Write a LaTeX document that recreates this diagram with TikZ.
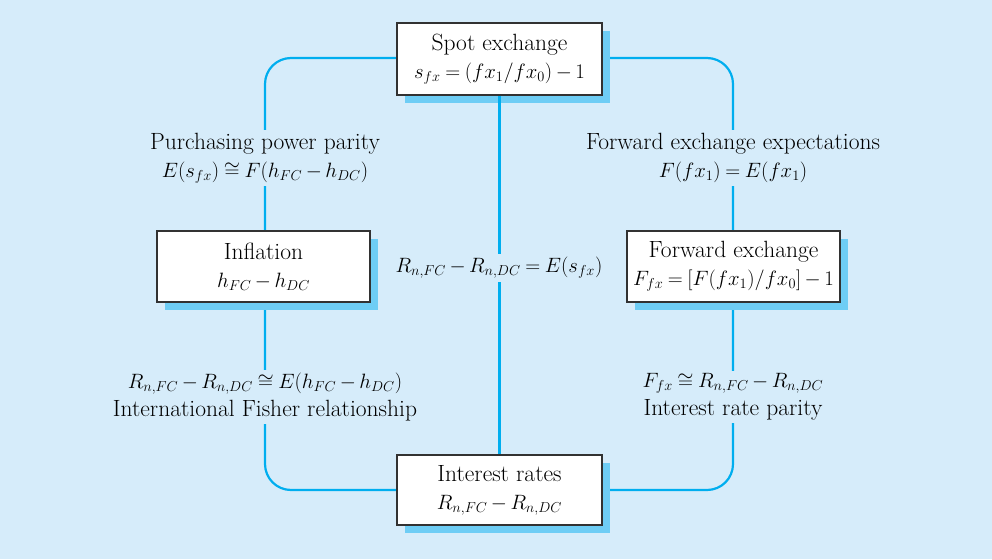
\documentclass[tikz,border=0pt]{standalone}
\usepackage{amsmath}
\usetikzlibrary{shadows}
\definecolor{bgblue}{RGB}{214,236,250}
\definecolor{linecyan}{RGB}{0,174,239}
\definecolor{shadowblue}{RGB}{110,205,245}
\definecolor{boxedge}{RGB}{50,50,50}
\newcommand{\mth}[1]{{\fontsize{20}{27}\selectfont$\medmuskip=3mu\thickmuskip=4mu #1$}}
\begin{document}
\begin{tikzpicture}[x=1pt,y=-1pt,
  txt/.style={font=\fontsize{23.5}{27}\selectfont, align=center},
  box/.style={txt, draw=boxedge, line width=1.2pt, fill=white, inner sep=0pt,
    drop shadow={shadow xshift=8pt, shadow yshift=-8pt, fill=shadowblue, opacity=1}},
  lab/.style={txt, fill=bgblue, inner sep=3pt},
  conn/.style={draw=linecyan, line width=2.2pt}]
\fill[bgblue] (0,0) rectangle (992,559);
\useasboundingbox (0,0) rectangle (992,559);
% loop
\coordinate (tl) at (265,58);
\coordinate (br) at (733,490);
\draw[conn, rounded corners=26pt] (tl) rectangle (br);
% boxes
\node[box, minimum width=205pt, minimum height=72pt] (spot) at (499.5,59)
  {Spot exchange\\[1pt]\mth{s_{fx}=(fx_1/fx_0)-1}};
\node[box, minimum width=213pt, minimum height=71pt] (infl) at (263.5,266.5)
  {Inflation\\[1pt]\mth{h_{FC}-h_{DC}}};
\node[box, minimum width=213pt, minimum height=71pt] (fwd) at (733.5,266.5)
  {Forward exchange\\[1pt]\mth{F_{fx}=[F(fx_1)/fx_0]-1}};
\node[box, minimum width=205pt, minimum height=70pt] (int) at (499.5,490)
  {Interest rates\\[1pt]\mth{R_{n,FC}-R_{n,DC}}};
% center line
\draw[conn] (spot.south) -- (int.north);
% labels
\node[lab] (ppp) at (265,158) {Purchasing power parity\\[1pt]\mth{E(s_{fx})\cong F(h_{FC}-h_{DC})}};
\node[lab] (fee) at (733,158) {Forward exchange expectations\\[1pt]\mth{F(fx_1)=E(fx_1)}};
\node[lab] (ife) at (265,397) {\mth{R_{n,FC}-R_{n,DC}\cong E(h_{FC}-h_{DC})}\\[1pt]International Fisher relationship};
\node[lab] (irp) at (733,397) {\mth{F_{fx}\cong R_{n,FC}-R_{n,DC}}\\[1pt]Interest rate parity};
\node[lab] (ctr) at (499,268) {\mth{R_{n,FC}-R_{n,DC}=E(s_{fx})}};
\end{tikzpicture}
\end{document}
